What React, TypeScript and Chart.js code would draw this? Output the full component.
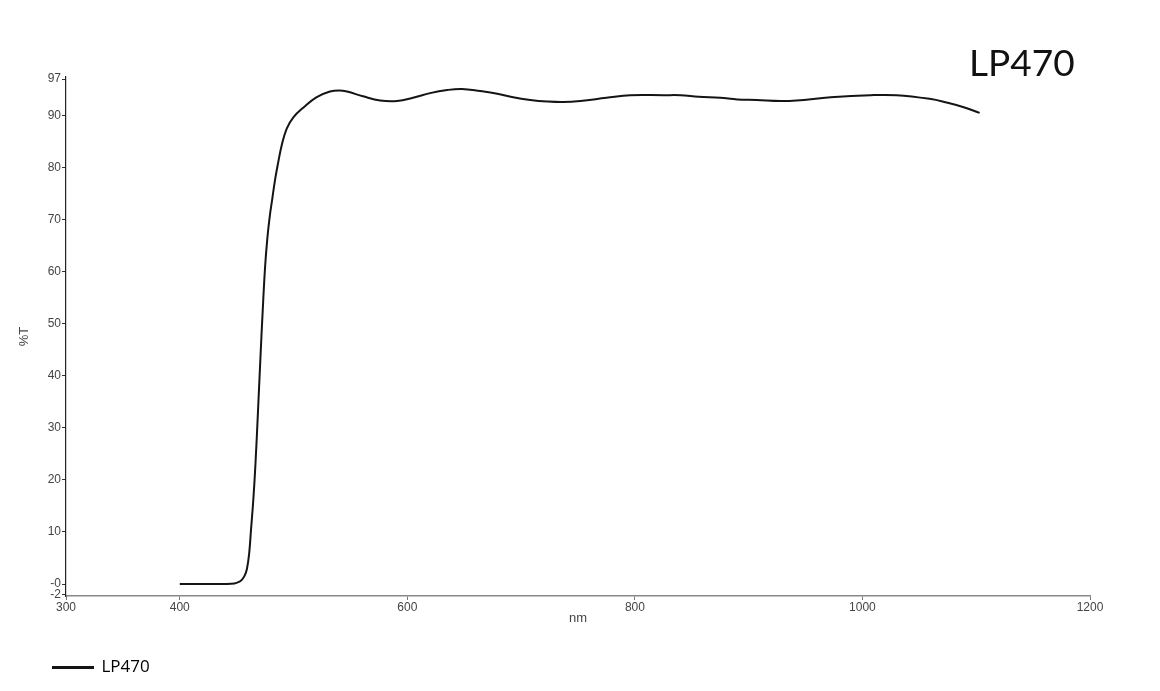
import React, { useEffect, useRef } from "react";
import { Chart, registerables } from "chart.js";

Chart.register(...registerables);

const seriesName = "LP470";
const chartTitle = "LP470";
const xAxisTitle = "nm";
const yAxisTitle = "%T";

const wavelengthNm = [
  400, 420, 440, 448, 452, 454.5, 457, 459, 461, 462.6, 464.6, 466.5, 468.7, 471, 473, 475, 477, 479,
  481.3, 483.7, 486.6, 489.6, 494, 500, 509, 520, 532, 540, 547, 561, 576, 591, 605, 620, 635, 648, 664,
  679, 693, 708, 723, 737, 752, 775, 796, 825, 840, 856, 875, 890, 907, 928, 942, 972, 1007, 1030,
  1059, 1074, 1089, 1103,
];

const transmissionPct = [
  0, 0, 0, 0.1, 0.4, 0.8, 1.6, 2.9, 5.9, 10.4, 16.1, 23, 33, 44, 53, 61, 66.5, 70.5,
  74, 77.6, 81.1, 84.3, 87.5, 89.7, 91.6, 93.5, 94.6, 94.8, 94.6, 93.7, 92.9, 92.8, 93.4, 94.3, 94.9, 95.1, 94.7,
  94.2, 93.5, 93.0, 92.7, 92.6, 92.8, 93.4, 93.9, 93.9, 93.9, 93.6, 93.4, 93.1, 93.0, 92.8, 92.9, 93.5, 93.9, 93.9,
  93.2, 92.5, 91.6, 90.5,
];

const xTickValues = [300, 400, 600, 800, 1000, 1200];
const yTickValues = [-2, 0, 10, 20, 30, 40, 50, 60, 70, 80, 90, 97];
const yTickLabels = ["-2", "-0", "10", "20", "30", "40", "50", "60", "70", "80", "90", "97"];

const legendShift = {
  id: "legendShift",
  afterLayout(chart: any) {
    const l = chart.legend;
    if (l) {
      l.left += 43;
      l.right += 43;
    }
  },
};

export default function App() {
  const canvasRef = useRef<HTMLCanvasElement | null>(null);

  useEffect(() => {
    if (!canvasRef.current) return;
    const points = wavelengthNm.map((x, i) => ({ x, y: transmissionPct[i] }));
    const tickFont = { family: "'Liberation Sans', Arial, sans-serif", size: 12 };
    const chart = new Chart(canvasRef.current, {
      type: "line",
      data: {
        datasets: [
          {
            label: seriesName,
            data: points,
            borderColor: "#141414",
            backgroundColor: "#000000",
            borderWidth: 2,
            pointRadius: 0,
            tension: 0.4,
            fill: false,
          },
        ],
      },
      plugins: [legendShift],
      options: {
        animation: false,
        responsive: false,
        maintainAspectRatio: false,
        layout: { padding: { left: 0, right: 70, top: 77, bottom: 5 } },
        plugins: {
          title: { display: false },
          tooltip: { enabled: false },
          legend: {
            display: true,
            position: "bottom",
            align: "start",
            labels: {
              boxWidth: 40,
              boxHeight: 1,
              padding: 10,
              color: "#000",
              font: { family: "'Open Sans', sans-serif", size: 17 },
            },
          },
        },
        scales: {
          x: {
            type: "linear",
            min: 300,
            max: 1200,
            afterBuildTicks: (s: any) => {
              s.ticks = xTickValues.map((v) => ({ value: v }));
            },
            afterFit: (s: any) => {
              s.height = 53;
            },
            ticks: {
              autoSkip: false,
              maxRotation: 0,
              padding: 0,
              color: "#444",
              font: tickFont,
              callback: (v: any) => String(v),
            },
            grid: { drawOnChartArea: false, drawTicks: true, tickLength: 4, color: "#777" },
            border: { display: true, color: "#888", width: 1.5 },
            title: {
              display: true,
              text: xAxisTitle,
              color: "#444",
              font: { family: "'Liberation Sans', Arial, sans-serif", size: 13 },
              padding: { top: 0, bottom: 23 },
            },
          },
          y: {
            type: "linear",
            min: -2.3,
            max: 97.4,
            afterBuildTicks: (s: any) => {
              s.ticks = yTickValues.map((v) => ({ value: v }));
            },
            afterFit: (s: any) => {
              s.width = 66;
            },
            ticks: {
              autoSkip: false,
              padding: 1,
              color: "#444",
              font: tickFont,
              callback: (_v: any, i: number) => yTickLabels[i],
            },
            grid: { drawOnChartArea: false, drawTicks: true, tickLength: 4, color: "#333" },
            border: { display: true, color: "#222", width: 1.2 },
            title: {
              display: true,
              text: yAxisTitle,
              color: "#444",
              font: { family: "'Liberation Sans', Arial, sans-serif", size: 13 },
              padding: { top: 17, bottom: 0 },
            },
          },
        },
      },
    } as any);
    return () => chart.destroy();
  }, []);

  return (
    <div style={{ position: "absolute", left: 0, top: 0, width: 1160, height: 691, background: "#fff" }}>
      <canvas ref={canvasRef} width={1160} height={691} style={{ width: 1160, height: 691, display: "block" }} />
      <div
        style={{
          position: "absolute",
          left: 969,
          top: 44,
          fontFamily: "Lato, 'Open Sans', sans-serif",
          fontSize: 37,
          lineHeight: "36px",
          color: "#111",
          fontWeight: 400,
          whiteSpace: "nowrap",
        }}
      >
        {chartTitle}
      </div>
    </div>
  );
}
